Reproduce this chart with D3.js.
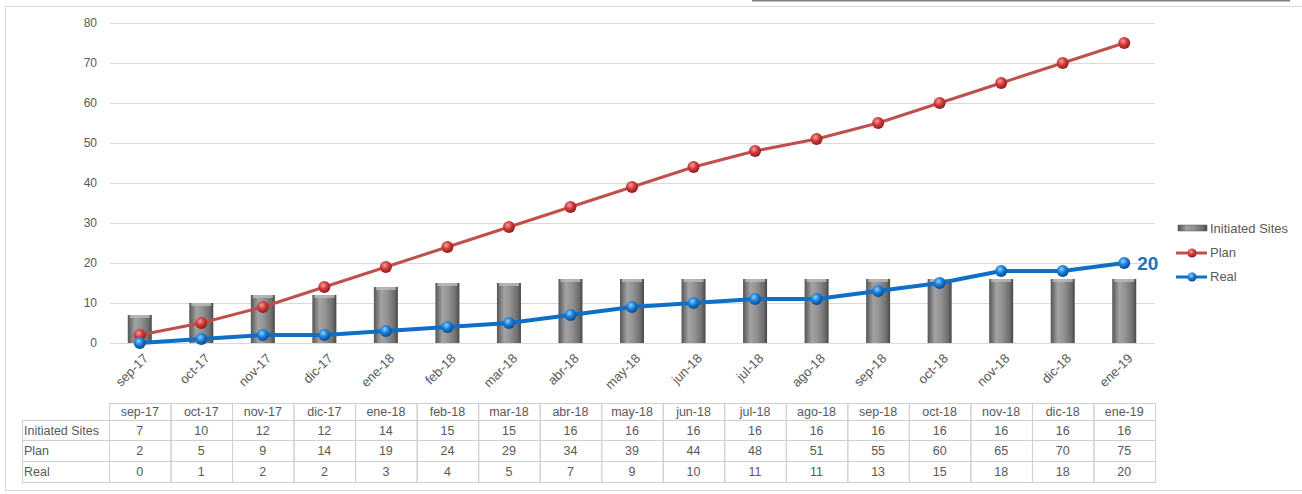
<!DOCTYPE html>
<html>
<head>
<meta charset="utf-8">
<script src="https://cdn.jsdelivr.net/npm/d3@7"></script>
<style>
  body { margin: 0; background: #fff; }
  svg { display: block; font-family: "Liberation Sans", Arial, sans-serif; }
</style>
</head>
<body>
<div id="chart"></div>
<script>
const months = ["sep-17", "oct-17", "nov-17", "dic-17", "ene-18", "feb-18", "mar-18", "abr-18", "may-18",
  "jun-18", "jul-18", "ago-18", "sep-18", "oct-18", "nov-18", "dic-18", "ene-19"];
const initiated = [7, 10, 12, 12, 14, 15, 15, 16, 16, 16, 16, 16, 16, 16, 16, 16, 16];
const plan = [2, 5, 9, 14, 19, 24, 29, 34, 39, 44, 48, 51, 55, 60, 65, 70, 75];
const real = [0, 1, 2, 2, 3, 4, 5, 7, 9, 10, 11, 11, 13, 15, 18, 18, 20];
const yTicks = [0, 10, 20, 30, 40, 50, 60, 70, 80];

const width = 1302, height = 494;
const txt = "#595959";

const svg = d3.select("#chart").append("svg")
  .attr("width", width).attr("height", height);

const defs = svg.append("defs");

// bar shading
const bg = defs.append("linearGradient").attr("id", "barGrad")
  .attr("x1", "0%").attr("x2", "100%").attr("y1", "0%").attr("y2", "0%");
[[0, "#555"], [0.3, "#a3a3a3"], [0.55, "#929292"], [0.85, "#6e6e6e"], [1, "#474747"]]
  .forEach(([o, c]) => bg.append("stop").attr("offset", o).attr("stop-color", c));

function sphere(id, light, mid, dark) {
  const g = defs.append("radialGradient").attr("id", id)
    .attr("cx", "40%").attr("cy", "35%").attr("r", "65%");
  g.append("stop").attr("offset", 0).attr("stop-color", light);
  g.append("stop").attr("offset", 0.5).attr("stop-color", mid);
  g.append("stop").attr("offset", 1).attr("stop-color", dark);
}
sphere("redBall", "#f4a0a0", "#d23a3a", "#8e1d1d");
sphere("blueBall", "#8fd0ff", "#1a7fd8", "#0a4b8f");

// frame
svg.append("rect").attr("x", 5.5).attr("y", 6.5).attr("width", 1300).attr("height", 484)
  .attr("fill", "none").attr("stroke", "#d9d9d9");
svg.append("line").attr("x1", 752).attr("x2", 1290).attr("y1", 0.75).attr("y2", 0.75)
  .attr("stroke", "#808080").attr("stroke-width", 1.5);

const x = d3.scaleBand().domain(months).range([109, 1155]).padding(0);
const y = d3.scaleLinear().domain([0, 80]).range([343, 23]);
const cx = d => x(d) + x.bandwidth() / 2;

// grid
svg.append("g").selectAll("line").data(yTicks).join("line")
  .attr("x1", 110).attr("x2", 1155)
  .attr("y1", d => y(d) + 0.5).attr("y2", d => y(d) + 0.5)
  .attr("stroke", "#d9d9d9").attr("stroke-width", 1.2);

// y axis labels
const yAxis = svg.append("g").attr("transform", "translate(103,0)")
  .call(d3.axisLeft(y).tickValues(yTicks).tickSize(0).tickPadding(6));
yAxis.select(".domain").remove();
yAxis.selectAll("text").attr("fill", txt).style("font-size", "12px")
  .style("font-family", "Liberation Sans, Arial, sans-serif");

// x axis labels
const xAxis = svg.append("g").attr("transform", "translate(0,343)")
  .call(d3.axisBottom(x).tickSize(0).tickPadding(0));
xAxis.select(".domain").remove();
xAxis.selectAll("text")
  .attr("fill", txt).style("font-size", "13px")
  .style("font-family", "Liberation Sans, Arial, sans-serif")
  .attr("text-anchor", "end")
  .attr("dy", "0.35em")
  .attr("transform", "translate(6,13) rotate(-45)");

// bars
const bw = 24;
const bars = svg.append("g").selectAll("g").data(months).join("g");
bars.append("rect")
  .attr("x", (d) => cx(d) - bw / 2)
  .attr("y", (d, i) => y(initiated[i]))
  .attr("width", bw)
  .attr("height", (d, i) => y(0) - y(initiated[i]))
  .attr("fill", "url(#barGrad)");
bars.append("rect")
  .attr("x", (d) => cx(d) - bw / 2 + 2)
  .attr("y", (d, i) => y(initiated[i]))
  .attr("width", bw - 4).attr("height", 3)
  .attr("fill", "#bcbcbc").attr("opacity", 0.8);

// lines
function series(vals, color, sw, ball) {
  const line = d3.line().x((d, i) => cx(months[i])).y(d => y(d));
  svg.append("path").datum(vals).attr("d", line)
    .attr("fill", "none").attr("stroke", color).attr("stroke-width", sw)
    .attr("stroke-linejoin", "round");
  svg.append("g").selectAll("circle").data(vals).join("circle")
    .attr("cx", (d, i) => cx(months[i])).attr("cy", d => y(d)).attr("r", 6)
    .attr("fill", `url(#${ball})`);
}
series(plan, "#c0504d", 3, "redBall");
series(real, "#0f6fc6", 4, "blueBall");

// last value label
svg.append("text")
  .attr("x", cx(months[months.length - 1]) + 13)
  .attr("y", y(real[real.length - 1]) + 7)
  .attr("fill", "#1f6fc0").style("font-size", "19px").style("font-weight", "bold")
  .text(real[real.length - 1]);

// legend
const leg = svg.append("g").attr("transform", "translate(1176,0)");
leg.append("rect").attr("x", 2).attr("y", 225).attr("width", 29).attr("height", 6)
  .attr("fill", "url(#barGrad)").attr("stroke", "#555").attr("stroke-width", 0.5);
leg.append("text").attr("x", 34).attr("y", 233).attr("fill", txt).style("font-size", "13px").text("Initiated Sites");
[["Plan", "#c0504d", "redBall", 253], ["Real", "#0f6fc6", "blueBall", 277]].forEach(([n, c, b, yy]) => {
  leg.append("line").attr("x1", 0).attr("x2", 31).attr("y1", yy).attr("y2", yy)
    .attr("stroke", c).attr("stroke-width", 3);
  leg.append("circle").attr("cx", 16).attr("cy", yy).attr("r", 4.5).attr("fill", `url(#${b})`);
  leg.append("text").attr("x", 34).attr("y", yy + 4).attr("fill", txt).style("font-size", "13px").text(n);
});

// data table
const rows = [["Initiated Sites", initiated], ["Plan", plan], ["Real", real]];
const rowY = [403, 420, 440, 461, 482];
const tbl = svg.append("g").style("font-size", "12.5px").attr("fill", txt);
const lineC = "#d0d0d0";
// header cells
tbl.selectAll(".hc").data(months).join("rect")
  .attr("x", d => x(d) + 0.5).attr("y", rowY[0] + 0.5)
  .attr("width", x.bandwidth()).attr("height", rowY[1] - rowY[0])
  .attr("fill", "none").attr("stroke", lineC);
tbl.selectAll(".ht").data(months).join("text")
  .attr("x", d => cx(d)).attr("y", (rowY[0] + rowY[1]) / 2 + 4)
  .attr("text-anchor", "middle").text(d => d);
rows.forEach(([name, vals], r) => {
  const y0 = rowY[r + 1], y1 = rowY[r + 2];
  tbl.append("rect").attr("x", 22.5).attr("y", y0 + 0.5).attr("width", 109 - 22)
    .attr("height", y1 - y0).attr("fill", "none").attr("stroke", lineC);
  tbl.append("text").attr("x", 24).attr("y", (y0 + y1) / 2 + 4.5).text(name);
  months.forEach((m, i) => {
    tbl.append("rect").attr("x", x(m) + 0.5).attr("y", y0 + 0.5)
      .attr("width", x.bandwidth()).attr("height", y1 - y0)
      .attr("fill", "none").attr("stroke", lineC);
    tbl.append("text").attr("x", cx(m)).attr("y", (y0 + y1) / 2 + 4.5)
      .attr("text-anchor", "middle").text(vals[i]);
  });
});
</script>
</body>
</html>
